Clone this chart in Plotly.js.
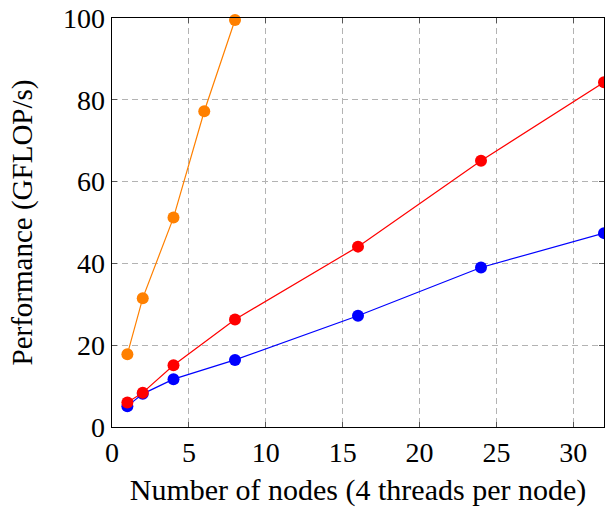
<!DOCTYPE html>
<html><head><meta charset="utf-8">
<script src="https://cdn.plot.ly/plotly-3.0.1.min.js"></script>
<style>html,body{margin:0;padding:0;background:#fff;}</style>
</head><body>
<div id="chart" style="width:605px;height:507px;"></div>
<script>
const nodesA = [1, 2, 4, 8, 16, 24, 32];
const blueVals = [5.1, 8.1, 11.7, 16.4, 27.2, 39.0, 47.4];
const redVals = [6.0, 8.4, 15.1, 26.3, 44.1, 65.1, 84.3];
const nodesB = [1, 2, 4, 6, 8];
const orangeVals = [17.8, 31.5, 51.2, 77.2, 99.5];

function series(x, y, color) {
  return {x: x, y: y, type: 'scatter', mode: 'lines+markers',
    line: {color: color, width: 1.2},
    marker: {color: color, size: 12},
    cliponaxis: false, showlegend: false};
}
const data = [
  series(nodesA, blueVals, '#0000ff'),
  series(nodesA, redVals, '#ff0000'),
  series(nodesB, orangeVals, '#ff8000')
];
const fontFam = '"Liberation Serif", "Times New Roman", serif';
const axisCommon = {
  showgrid: true, gridcolor: '#b3b3b3', griddash: '6px,4px', gridwidth: 1,
  zeroline: false, showline: true, linecolor: '#000', linewidth: 1.3, mirror: 'ticks',
  ticks: 'inside', ticklen: 5, tickcolor: '#555', tickwidth: 1,
  tickfont: {family: fontFam, size: 28, color: '#000'}
};
const layout = {
  width: 605, height: 507,
  margin: {l: 112, r: 1, t: 18, b: 80},
  paper_bgcolor: '#fff', plot_bgcolor: '#fff',
  font: {family: fontFam, color: '#000'},
  xaxis: Object.assign({}, axisCommon, {
    range: [0, 32], tickvals: [0, 5, 10, 15, 20, 25, 30],
    title: {text: 'Number of nodes (4 threads per node)', font: {family: fontFam, size: 30}, standoff: 13}
  }),
  yaxis: Object.assign({}, axisCommon, {
    range: [0, 100], tickvals: [0, 20, 40, 60, 80, 100],
    title: {text: 'Performance (GFLOP/s)', font: {family: fontFam, size: 29}, standoff: 22}
  })
};
Plotly.newPlot('chart', data, layout, {displayModeBar: false, staticPlot: true});
</script>
</body></html>
